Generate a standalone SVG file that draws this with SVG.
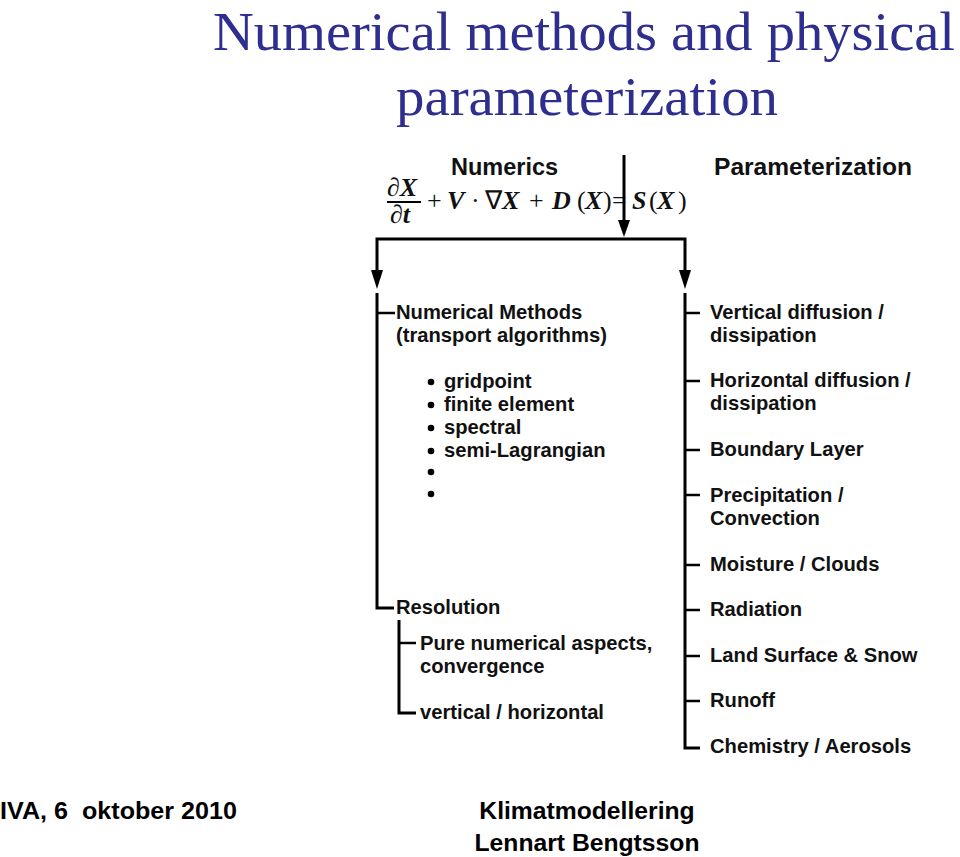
<svg xmlns="http://www.w3.org/2000/svg" width="960" height="857" viewBox="0 0 960 857">
<style>
.title{font-family:"Liberation Serif",serif;font-size:55px;fill:#2e2e8e}
.h{font-family:"Liberation Sans",sans-serif;font-weight:bold;font-size:23.5px;fill:#111}
.t{font-family:"Liberation Sans",sans-serif;font-weight:bold;font-size:20.2px;fill:#111}
.eq{font-family:"Liberation Serif",serif;font-weight:bold;font-size:26px;fill:#111}
.eqn{font-family:"Liberation Serif",serif;font-weight:normal;font-size:26px;fill:#111}
.it{font-style:italic;font-weight:bold}
.foot{font-family:"Liberation Sans",sans-serif;font-weight:bold;font-size:24.7px;fill:#000}
.ln{stroke:#000;stroke-width:3;fill:none}
.tk{stroke:#000;stroke-width:2.5;fill:none}
.ah{fill:#000}
</style>
<rect width="960" height="857" fill="#fff"/>
<g id="title">
<text class="title" x="213" y="50" textLength="742" lengthAdjust="spacingAndGlyphs">Numerical methods and physical</text>
<text class="title" x="396" y="115" textLength="382" lengthAdjust="spacingAndGlyphs">parameterization</text>
</g>
<g id="header">
<text class="h" x="451" y="175">Numerics</text>
<text class="h" x="714" y="175" textLength="198" lengthAdjust="spacingAndGlyphs">Parameterization</text>
</g>
<g id="equation">
<text class="eq it" x="387" y="196">∂X</text>
<line x1="387" y1="202" x2="421" y2="202" stroke="#000" stroke-width="2"/>
<text class="eq it" x="390" y="223">∂t</text>
<text class="eqn" y="209"><tspan x="427">+</tspan><tspan class="it" x="447">V</tspan><tspan x="471">·</tspan><tspan x="485">∇</tspan><tspan class="it" x="502">X</tspan><tspan x="529">+</tspan><tspan class="it" x="552">D</tspan><tspan x="577">(</tspan><tspan class="it" x="585">X</tspan><tspan x="603">)</tspan><tspan x="612">=</tspan><tspan class="it" x="632">S</tspan><tspan x="649">(</tspan><tspan class="it" x="657">X</tspan><tspan x="678">)</tspan></text>
</g>
<g id="connectors">
<line class="ln" x1="624" y1="155" x2="624" y2="222"/>
<polygon class="ah" points="618,220 630,220 624,237"/>
<polyline class="ln" points="377,272 377,239 685,239 685,272"/>
<polygon class="ah" points="371,270 383,270 377,289"/>
<polygon class="ah" points="679,270 691,270 685,289"/>
<polyline class="ln" points="377,293 377,608 394,608"/>
<line class="tk" x1="377" y1="313" x2="395" y2="313"/>
<polyline class="ln" points="399,620 399,713 416,713"/>
<line class="tk" x1="399" y1="643" x2="416" y2="643"/>
<polyline class="ln" points="685,293 685,748 700,748"/>
<line class="tk" x1="685" y1="313" x2="700" y2="313"/>
<line class="tk" x1="685" y1="381" x2="700" y2="381"/>
<line class="tk" x1="685" y1="450" x2="700" y2="450"/>
<line class="tk" x1="685" y1="495" x2="700" y2="495"/>
<line class="tk" x1="685" y1="565" x2="700" y2="565"/>
<line class="tk" x1="685" y1="610" x2="700" y2="610"/>
<line class="tk" x1="685" y1="656" x2="700" y2="656"/>
<line class="tk" x1="685" y1="701" x2="700" y2="701"/>
</g>
<g id="numerical-methods">
<text class="t" x="396" y="319">Numerical Methods</text>
<text class="t" x="396" y="342">(transport algorithms)</text>
</g>
<g id="methods-list">
<circle cx="431" cy="382" r="3.3"/>
<circle cx="431" cy="405" r="3.3"/>
<circle cx="431" cy="428" r="3.3"/>
<circle cx="431" cy="451" r="3.3"/>
<circle cx="431" cy="472" r="3.3"/>
<circle cx="431" cy="494" r="3.3"/>
<text class="t" x="444" y="388">gridpoint</text>
<text class="t" x="444" y="411">finite element</text>
<text class="t" x="444" y="434">spectral</text>
<text class="t" x="444" y="457">semi-Lagrangian</text>
</g>
<g id="resolution"><text class="t" x="396" y="614">Resolution</text></g>
<g id="pure-numerical">
<text class="t" x="420" y="650">Pure numerical aspects,</text>
<text class="t" x="420" y="673">convergence</text>
</g>
<g id="vert-horiz"><text class="t" x="420" y="719">vertical / horizontal</text></g>
<g id="vertical-diffusion">
<text class="t" x="710" y="319">Vertical diffusion /</text>
<text class="t" x="710" y="342">dissipation</text>
</g>
<g id="horizontal-diffusion">
<text class="t" x="710" y="387">Horizontal diffusion /</text>
<text class="t" x="710" y="410">dissipation</text>
</g>
<g id="boundary-layer"><text class="t" x="710" y="456">Boundary Layer</text></g>
<g id="precipitation">
<text class="t" x="710" y="502">Precipitation /</text>
<text class="t" x="710" y="525">Convection</text>
</g>
<g id="moisture"><text class="t" x="710" y="571">Moisture / Clouds</text></g>
<g id="radiation"><text class="t" x="710" y="616">Radiation</text></g>
<g id="land-surface"><text class="t" x="710" y="662">Land Surface &amp; Snow</text></g>
<g id="runoff"><text class="t" x="710" y="707">Runoff</text></g>
<g id="chemistry"><text class="t" x="710" y="753">Chemistry / Aerosols</text></g>
<g id="footer">
<text class="foot" x="0" y="819" textLength="237" lengthAdjust="spacingAndGlyphs" xml:space="preserve">IVA, 6  oktober 2010</text>
<text class="foot" x="587" y="819" text-anchor="middle">Klimatmodellering</text>
<text class="foot" x="587" y="851" text-anchor="middle">Lennart Bengtsson</text>
</g>
</svg>
